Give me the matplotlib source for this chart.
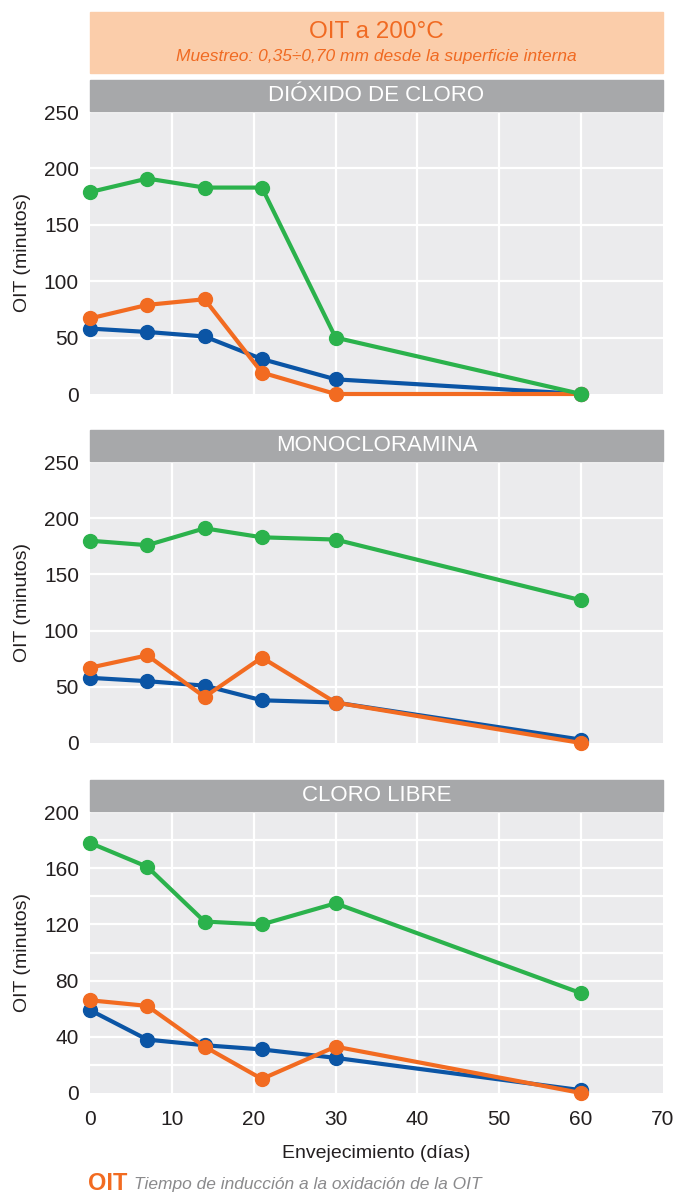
import numpy as np
import matplotlib
matplotlib.use('Agg')
from matplotlib import pyplot as plt
from matplotlib.patches import Rectangle

plt.rcParams['font.family'] = ['Liberation Sans', 'DejaVu Sans']

# data
dias = [0, 7, 14, 21, 30, 60]
paneles = ['DIÓXIDO DE CLORO', 'MONOCLORAMINA', 'CLORO LIBRE']

verde = [[179, 191, 183, 183, 50, 0],
         [180, 176, 191, 183, 181, 127],
         [178, 161, 122, 120, 135, 71]]
naranja = [[67, 79, 84, 19, 0, 0],
           [67, 78, 41, 76, 36, 0],
           [66, 62, 33, 10, 33, 0]]
azul = [[58, 55, 51, 31, 13, 0],
        [58, 55, 51, 38, 36, 3],
        [59, 38, 34, 31, 25, 2]]

ylims = [250, 250, 200]
yticks = [[0, 50, 100, 150, 200, 250],
          [0, 50, 100, 150, 200, 250],
          [0, 40, 80, 120, 160, 200]]
ygrid = [[0, 50, 100, 150, 200, 250],
         [0, 50, 100, 150, 200, 250],
         list(range(0, 201, 20))]

C_VERDE = '#2bb24c'
C_NARANJA = '#f26b21'
C_AZUL = '#0b55a5'
C_FONDO = '#ebebed'
C_GRIS = '#a7a8aa'
C_TEXTO = '#231f20'

W, H = 677, 1198
fig = plt.figure(figsize=(W / 100, H / 100), dpi=100)

def fx(px):
    return px / W

def fy(py):
    return 1 - py / H

left, right = 90, 663
tops = [112, 462, 812]
bottoms = [394, 743, 1093]
bands = [(80, 111), (430, 461), (780, 811)]

# header box
fig.patches.append(Rectangle((fx(left), fy(73)), fx(right) - fx(left), fy(12) - fy(73),
                             transform=fig.transFigure, color='#fbcdaa', zorder=0))
fig.text(fx((left + right) / 2), fy(32), 'OIT a 200°C', ha='center', va='center',
         fontsize=17.5, color='#f06a22')
fig.text(fx((left + right) / 2), fy(57), 'Muestreo: 0,35÷0,70 mm desde la superficie interna',
         ha='center', va='center', fontsize=12.5, color='#f06a22', style='italic')

for i in range(3):
    ax = fig.add_axes([fx(left), fy(bottoms[i]), fx(right) - fx(left), fy(tops[i]) - fy(bottoms[i])])
    ax.set_facecolor(C_FONDO)
    for s in ax.spines.values():
        s.set_visible(False)
    ax.set_xlim(0, 70)
    ax.set_ylim(0, ylims[i])
    for g in range(10, 70, 10):
        ax.axvline(g, color='white', lw=1.6, zorder=1)
    for g in ygrid[i][1:]:
        ax.axhline(g, color='white', lw=1.6, zorder=1)
    ax.set_yticks(yticks[i])
    ax.tick_params(length=0, labelsize=15, colors=C_TEXTO, pad=8)
    if i == 2:
        ax.set_xticks(range(0, 71, 10))
        ax.tick_params(axis='x', pad=12)
        ax.set_xlabel('Envejecimiento (días)', fontsize=14, color=C_TEXTO, labelpad=12)
    else:
        ax.set_xticks([])
    ax.set_ylabel('OIT (minutos)', fontsize=14, color=C_TEXTO)
    ax.yaxis.set_label_coords(-0.103, 0.5)

    ax.plot(dias, azul[i], color=C_AZUL, lw=3, marker='o', ms=10, clip_on=False, zorder=3)
    ax.plot(dias, naranja[i], color=C_NARANJA, lw=3, marker='o', ms=10, clip_on=False, zorder=4)
    ax.plot(dias, verde[i], color=C_VERDE, lw=3, marker='o', ms=10, clip_on=False, zorder=5)

    b0, b1 = bands[i]
    fig.patches.append(Rectangle((fx(left), fy(b1)), fx(right) - fx(left), fy(b0) - fy(b1),
                                 transform=fig.transFigure, color=C_GRIS, zorder=0))
    fig.text(fx((left + right) / 2), fy((b0 + b1) / 2), paneles[i], ha='center', va='center',
             fontsize=16, color='white')

# footnote
t = fig.text(fx(88), fy(1184), 'OIT', ha='left', va='center', fontsize=17,
             color=C_NARANJA, fontweight='bold')
fig.canvas.draw()
bb = t.get_window_extent()
fig.text(bb.x1 / W + fx(7), fy(1185), 'Tiempo de inducción a la oxidación de la OIT', ha='left',
         va='center', fontsize=12.5, color='#8a8a8c', style='italic')

fig.savefig('out.png', dpi=100)
